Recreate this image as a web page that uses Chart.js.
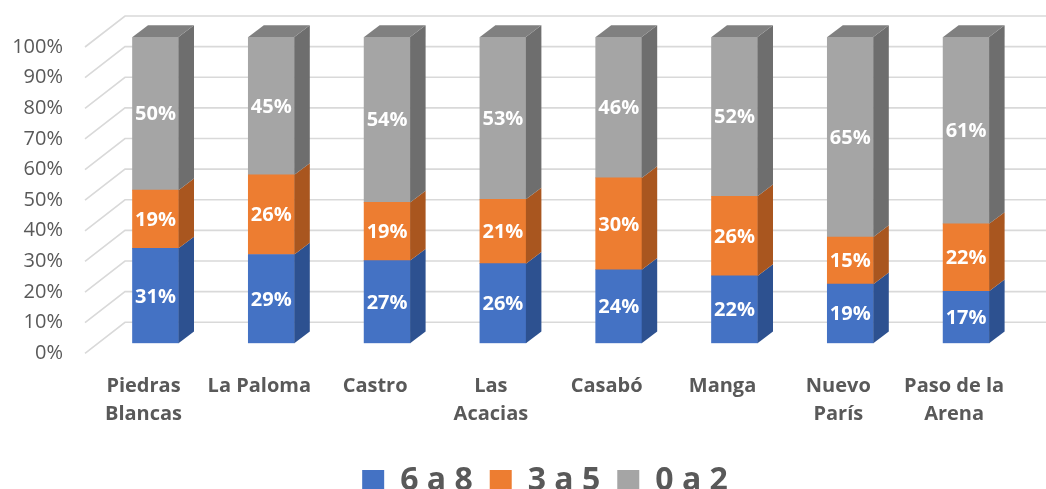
<!DOCTYPE html>
<html>
<head>
<meta charset="utf-8">
<script src="https://cdn.jsdelivr.net/npm/chart.js@4/dist/chart.umd.min.js"></script>
<style>
  body { margin: 0; background: #fff; }
  #wrap { width: 1046px; height: 489px; position: relative; }
</style>
</head>
<body>
<div id="wrap"><canvas id="barChart"></canvas></div>
<script>
// datos del gráfico
const categorias = [['Piedras', 'Blancas'], 'La Paloma', 'Castro', ['Las', 'Acacias'], 'Casabó', 'Manga', ['Nuevo', 'París'], ['Paso de la', 'Arena']];
const serie6a8 = [31, 29, 27, 26, 24, 22, 19.3, 17];
const serie3a5 = [19, 26, 19, 21, 30, 26, 15.4, 22];
const serie0a2 = [50, 45, 54, 53, 46, 52, 65.3, 61];
const nombresSeries = ['6 a 8', '3 a 5', '0 a 2'];

// colores: frente, lateral, tapa
const colFrente = ['#4472C4', '#ED7D31', '#A5A5A5'];
const colLado = ['#2D5190', '#A9561F', '#6E6E6E'];
const colTapa = ['#3A62A8', '#C86A2A', '#808080'];

const PROF_X = 15.5;   // profundidad de la barra
const PROF_Y = -11.7;
const AREA_ABAJO = 343.3; // base de las barras

Chart.defaults.font.family = "'Open Sans', sans-serif";
Chart.defaults.color = '#595959';

// --- paredes y lineas de fondo (efecto 3D) ---
const fondo3D = {
  id: 'fondo3D',
  afterLayout(chart) {
    // bajar y centrar la leyenda como en el original
    const lg = chart.legend;
    const dy = 448 - lg.top;
    const dx = 33;
    lg.top += dy; lg.bottom += dy;
    lg.left += dx; lg.right += dx;
  },
  beforeDatasetsDraw(chart) {
    const { ctx, chartArea, scales: { y } } = chart;
    const xIzq = chartArea.left - 12.6;
    const xFondo = chartArea.left + 27.4;
    ctx.save();
    ctx.strokeStyle = '#D9D9D9';
    ctx.lineWidth = 1.6;
    for (let v = 0; v <= 100; v += 10) {
      const py = y.getPixelForValue(v);
      ctx.beginPath();
      ctx.moveTo(xIzq, py + 10);
      ctx.lineTo(xFondo, py - 21);
      ctx.lineTo(chart.width, py - 21);
      ctx.stroke();
    }
    ctx.restore();
  }
};

// --- caras laterales, tapa y etiquetas ---
const barras3D = {
  id: 'barras3D',
  afterDatasetsDraw(chart) {
    const { ctx } = chart;
    const nSets = chart.data.datasets.length;
    ctx.save();
    for (let d = 0; d < nSets; d++) {
      const meta = chart.getDatasetMeta(d);
      meta.data.forEach((bar) => {
        const { x, y, base, width } = bar.getProps(['x', 'y', 'base', 'width'], true);
        const der = x + width / 2;
        const izq = x - width / 2;
        // lateral
        ctx.fillStyle = colLado[d];
        ctx.beginPath();
        ctx.moveTo(der, y);
        ctx.lineTo(der + PROF_X, y + PROF_Y);
        ctx.lineTo(der + PROF_X, base + PROF_Y);
        ctx.lineTo(der, base);
        ctx.closePath();
        ctx.fill();
        // tapa solo en el ultimo segmento
        if (d === nSets - 1) {
          ctx.fillStyle = colTapa[d];
          ctx.beginPath();
          ctx.moveTo(izq, y);
          ctx.lineTo(der, y);
          ctx.lineTo(der + PROF_X, y + PROF_Y);
          ctx.lineTo(izq + PROF_X, y + PROF_Y);
          ctx.closePath();
          ctx.fill();
        }
      });
    }
    // etiquetas de valor
    ctx.fillStyle = '#FFFFFF';
    ctx.font = "bold 20px 'Open Sans', sans-serif";
    ctx.textAlign = 'center';
    ctx.textBaseline = 'middle';
    for (let d = 0; d < nSets; d++) {
      const meta = chart.getDatasetMeta(d);
      const valores = chart.data.datasets[d].data;
      meta.data.forEach((bar, i) => {
        const { x, y, base } = bar.getProps(['x', 'y', 'base'], true);
        ctx.fillText(Math.round(valores[i]) + '%', x, (y + base) / 2 + 1);
      });
    }
    ctx.restore();
  }
};

const ctxMain = document.getElementById('barChart').getContext('2d');
const mainChart = new Chart(ctxMain, {
  type: 'bar',
  data: {
    labels: categorias,
    datasets: [
      { label: nombresSeries[0], data: serie6a8, backgroundColor: colFrente[0] },
      { label: nombresSeries[1], data: serie3a5, backgroundColor: colFrente[1] },
      { label: nombresSeries[2], data: serie0a2, backgroundColor: colFrente[2] }
    ]
  },
  options: {
    responsive: true,
    maintainAspectRatio: false,
    animation: false,
    events: [],
    layout: {
      padding: { left: 0, right: 22, top: 37, bottom: 0 }
    },
    datasets: {
      bar: { barThickness: 46 }
    },
    plugins: {
      tooltip: { enabled: false },
      legend: {
        position: 'bottom',
        labels: {
          boxWidth: 22,
          boxHeight: 22,
          padding: 17,
          color: '#595959',
          font: { size: 32, weight: 'bold' }
        }
      }
    },
    scales: {
      x: {
        stacked: true,
        grid: { display: false, drawTicks: false },
        border: { display: false },
        ticks: {
          labelOffset: -12,
          padding: 29,
          maxRotation: 0,
          autoSkip: false,
          color: '#595959',
          font: { size: 20, weight: 'bold', lineHeight: 1.4 }
        },
        afterFit(scale) {
          scale.height = scale.chart.height - AREA_ABAJO - scale.chart.legend.height;
          scale.paddingLeft = 0;
          scale.paddingRight = 0;
        }
      },
      y: {
        stacked: true,
        min: 0,
        max: 100,
        grid: { display: false, drawTicks: false },
        border: { display: false },
        ticks: {
          stepSize: 10,
          labelOffset: 10,
          padding: 34.6,
          color: '#595959',
          font: { size: 20 },
          callback: (v) => v + '%'
        },
        afterFit(scale) {
          scale.width = 97.6;
          scale.paddingTop = 0;
          scale.paddingBottom = 0;
        }
      }
    }
  },
  plugins: [fondo3D, barras3D]
});
</script>
</body>
</html>
